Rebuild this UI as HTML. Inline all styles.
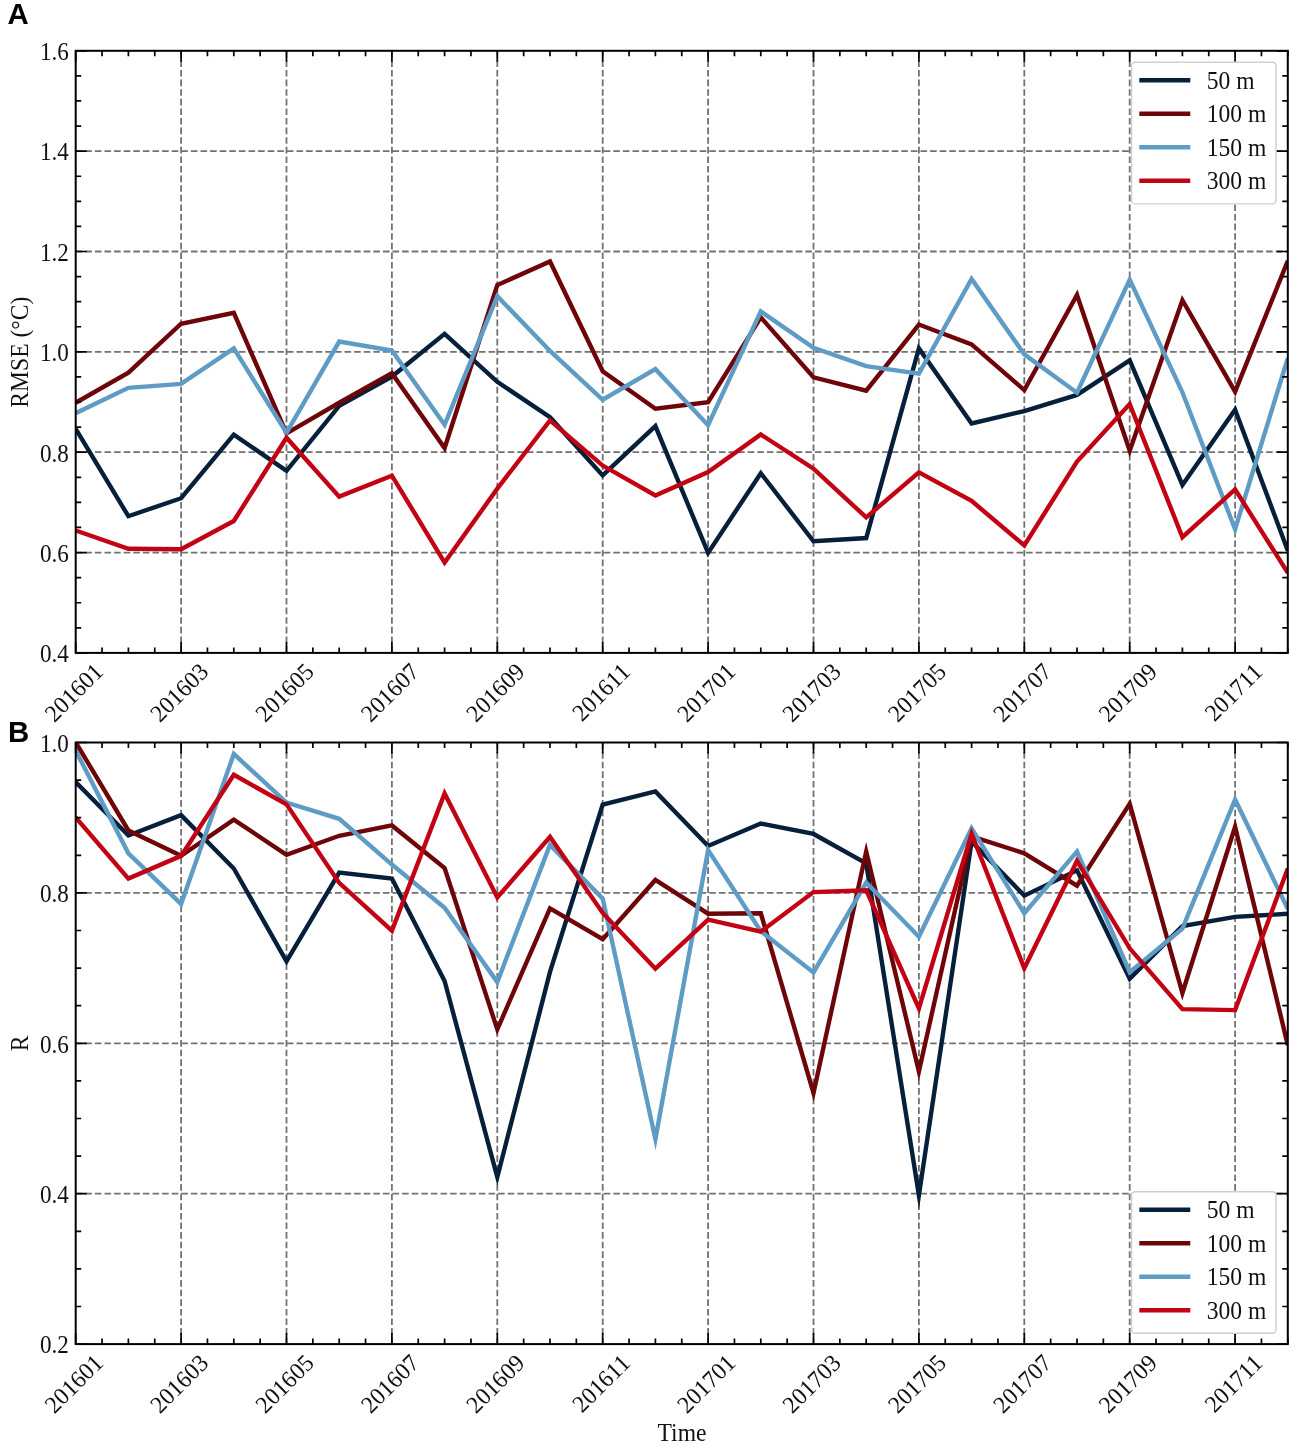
<!DOCTYPE html>
<html><head><meta charset="utf-8"><title>Figure</title>
<style>
html,body{margin:0;padding:0;background:#fff;}
body{width:1299px;height:1451px;overflow:hidden;}
svg{display:block}
text{font-family:"Liberation Serif",serif;font-size:24.2px;fill:#111;}
.pl{font-family:"Liberation Sans",sans-serif;font-weight:bold;font-size:30.3px;fill:#000;}
</style></head><body>
<svg style="will-change:transform" width="1299" height="1451" viewBox="0 0 1299 1451">
<rect width="1299" height="1451" fill="#fff"/>
<clipPath id="ac"><rect x="75.7" y="50.8" width="1212.10" height="602.10"/></clipPath>
<path d="M181.10 50.8V652.9M286.50 50.8V652.9M391.90 50.8V652.9M497.30 50.8V652.9M602.70 50.8V652.9M708.10 50.8V652.9M813.50 50.8V652.9M918.90 50.8V652.9M1024.30 50.8V652.9M1129.70 50.8V652.9M1235.10 50.8V652.9M75.7 151.15H1287.8M75.7 251.50H1287.8M75.7 351.85H1287.8M75.7 452.20H1287.8M75.7 552.55H1287.8" stroke="#727272" stroke-width="1.8" stroke-dasharray="6.6 3.0" fill="none"/>
<g clip-path="url(#ac)" fill="none" stroke-width="4.4" stroke-linejoin="miter" stroke-miterlimit="10">
<path d="M75.7 428.92L128.4 516.21L181.1 498.23L233.8 434.68L286.5 470.79L339.2 405.91L391.9 376.57L444.6 333.85L497.3 381.81L550.0 417.15L602.7 475.4L655.4 426.1L708.1 552.89L760.8 473.18L813.5 541.3L866.2 538.07L918.9 348.42L971.6 423.4L1024.3 411.12L1077.0 394.89L1129.7 360.35L1182.4 484.91L1235.1 409.68L1287.8 550.63" stroke="#061f3a"/>
<path d="M75.7 402.75L128.4 372.64L181.1 323.75L233.8 312.82L286.5 433.46L339.2 402.75L391.9 373.15L444.6 448.05L497.3 285.06L550.0 261.43L602.7 371.31L655.4 408.67L708.1 402.09L760.8 317.36L813.5 377.3L866.2 390.71L918.9 324.56L971.6 344.4L1024.3 390.11L1077.0 295.01L1129.7 450.69L1182.4 300.16L1235.1 391.67L1287.8 260.89" stroke="#6e0509"/>
<path d="M75.7 413.22L128.4 387.85L181.1 383.85L233.8 348.41L286.5 432.77L339.2 341.53L391.9 350.5L444.6 424.73L497.3 296.12L550.0 350.92L602.7 399.77L655.4 369.13L708.1 425.15L760.8 311.4L813.5 347.77L866.2 366.09L918.9 373.68L971.6 278.94L1024.3 354.32L1077.0 392.77L1129.7 279.65L1182.4 392.28L1235.1 529.29L1287.8 358.25" stroke="#5f9cc5"/>
<path d="M75.7 530.48L128.4 548.78L181.1 549.28L233.8 521.01L286.5 437.73L339.2 496.65L391.9 475.69L444.6 562.52L497.3 488.6L550.0 420.41L602.7 465.56L655.4 495.5L708.1 472.1L760.8 434.47L813.5 468.71L866.2 517.42L918.9 472.42L971.6 500.91L1024.3 545.42L1077.0 461.64L1129.7 404.03L1182.4 537.23L1235.1 489.42L1287.8 572.88" stroke="#c20314"/>
</g>
<path d="M75.70 50.8v11M75.70 652.9v-11M102.05 50.8v5.5M102.05 652.9v-5.5M128.40 50.8v5.5M128.40 652.9v-5.5M154.75 50.8v5.5M154.75 652.9v-5.5M181.10 50.8v11M181.10 652.9v-11M207.45 50.8v5.5M207.45 652.9v-5.5M233.80 50.8v5.5M233.80 652.9v-5.5M260.15 50.8v5.5M260.15 652.9v-5.5M286.50 50.8v11M286.50 652.9v-11M312.85 50.8v5.5M312.85 652.9v-5.5M339.20 50.8v5.5M339.20 652.9v-5.5M365.55 50.8v5.5M365.55 652.9v-5.5M391.90 50.8v11M391.90 652.9v-11M418.25 50.8v5.5M418.25 652.9v-5.5M444.60 50.8v5.5M444.60 652.9v-5.5M470.95 50.8v5.5M470.95 652.9v-5.5M497.30 50.8v11M497.30 652.9v-11M523.65 50.8v5.5M523.65 652.9v-5.5M550.00 50.8v5.5M550.00 652.9v-5.5M576.35 50.8v5.5M576.35 652.9v-5.5M602.70 50.8v11M602.70 652.9v-11M629.05 50.8v5.5M629.05 652.9v-5.5M655.40 50.8v5.5M655.40 652.9v-5.5M681.75 50.8v5.5M681.75 652.9v-5.5M708.10 50.8v11M708.10 652.9v-11M734.45 50.8v5.5M734.45 652.9v-5.5M760.80 50.8v5.5M760.80 652.9v-5.5M787.15 50.8v5.5M787.15 652.9v-5.5M813.50 50.8v11M813.50 652.9v-11M839.85 50.8v5.5M839.85 652.9v-5.5M866.20 50.8v5.5M866.20 652.9v-5.5M892.55 50.8v5.5M892.55 652.9v-5.5M918.90 50.8v11M918.90 652.9v-11M945.25 50.8v5.5M945.25 652.9v-5.5M971.60 50.8v5.5M971.60 652.9v-5.5M997.95 50.8v5.5M997.95 652.9v-5.5M1024.30 50.8v11M1024.30 652.9v-11M1050.65 50.8v5.5M1050.65 652.9v-5.5M1077.00 50.8v5.5M1077.00 652.9v-5.5M1103.35 50.8v5.5M1103.35 652.9v-5.5M1129.70 50.8v11M1129.70 652.9v-11M1156.05 50.8v5.5M1156.05 652.9v-5.5M1182.40 50.8v5.5M1182.40 652.9v-5.5M1208.75 50.8v5.5M1208.75 652.9v-5.5M1235.10 50.8v11M1235.10 652.9v-11M1261.45 50.8v5.5M1261.45 652.9v-5.5M1287.80 50.8v5.5M1287.80 652.9v-5.5M75.7 50.80h11M1287.8 50.80h-11M75.7 75.89h5.5M1287.8 75.89h-5.5M75.7 100.97h5.5M1287.8 100.97h-5.5M75.7 126.06h5.5M1287.8 126.06h-5.5M75.7 151.15h11M1287.8 151.15h-11M75.7 176.24h5.5M1287.8 176.24h-5.5M75.7 201.32h5.5M1287.8 201.32h-5.5M75.7 226.41h5.5M1287.8 226.41h-5.5M75.7 251.50h11M1287.8 251.50h-11M75.7 276.59h5.5M1287.8 276.59h-5.5M75.7 301.68h5.5M1287.8 301.68h-5.5M75.7 326.76h5.5M1287.8 326.76h-5.5M75.7 351.85h11M1287.8 351.85h-11M75.7 376.94h5.5M1287.8 376.94h-5.5M75.7 402.02h5.5M1287.8 402.02h-5.5M75.7 427.11h5.5M1287.8 427.11h-5.5M75.7 452.20h11M1287.8 452.20h-11M75.7 477.29h5.5M1287.8 477.29h-5.5M75.7 502.38h5.5M1287.8 502.38h-5.5M75.7 527.46h5.5M1287.8 527.46h-5.5M75.7 552.55h11M1287.8 552.55h-11M75.7 577.64h5.5M1287.8 577.64h-5.5M75.7 602.73h5.5M1287.8 602.73h-5.5M75.7 627.81h5.5M1287.8 627.81h-5.5M75.7 652.90h11M1287.8 652.90h-11" stroke="#000" stroke-width="1.7" fill="none"/>
<rect x="75.7" y="50.8" width="1212.10" height="602.10" fill="none" stroke="#000" stroke-width="2.0"/>
<text transform="translate(68.80 60.10) scale(0.955 1)" text-anchor="end">1.6</text>
<text transform="translate(68.80 160.45) scale(0.955 1)" text-anchor="end">1.4</text>
<text transform="translate(68.80 260.80) scale(0.955 1)" text-anchor="end">1.2</text>
<text transform="translate(68.80 361.15) scale(0.955 1)" text-anchor="end">1.0</text>
<text transform="translate(68.80 461.50) scale(0.955 1)" text-anchor="end">0.8</text>
<text transform="translate(68.80 561.85) scale(0.955 1)" text-anchor="end">0.6</text>
<text transform="translate(68.80 662.20) scale(0.955 1)" text-anchor="end">0.4</text>
<text transform="translate(104.50 673.20) rotate(-45) scale(0.975 1)" text-anchor="end">201601</text>
<text transform="translate(209.90 673.20) rotate(-45) scale(0.975 1)" text-anchor="end">201603</text>
<text transform="translate(315.30 673.20) rotate(-45) scale(0.975 1)" text-anchor="end">201605</text>
<text transform="translate(420.70 673.20) rotate(-45) scale(0.975 1)" text-anchor="end">201607</text>
<text transform="translate(526.10 673.20) rotate(-45) scale(0.975 1)" text-anchor="end">201609</text>
<text transform="translate(631.50 673.20) rotate(-45) scale(0.975 1)" text-anchor="end">201611</text>
<text transform="translate(736.90 673.20) rotate(-45) scale(0.975 1)" text-anchor="end">201701</text>
<text transform="translate(842.30 673.20) rotate(-45) scale(0.975 1)" text-anchor="end">201703</text>
<text transform="translate(947.70 673.20) rotate(-45) scale(0.975 1)" text-anchor="end">201705</text>
<text transform="translate(1053.10 673.20) rotate(-45) scale(0.975 1)" text-anchor="end">201707</text>
<text transform="translate(1158.50 673.20) rotate(-45) scale(0.975 1)" text-anchor="end">201709</text>
<text transform="translate(1263.90 673.20) rotate(-45) scale(0.975 1)" text-anchor="end">201711</text>
<rect x="1131.6" y="62.3" width="144.4" height="141.6" rx="3.5" fill="#fff" fill-opacity="1" stroke="#cfcfcf" stroke-width="1.4"/>
<path d="M1139.3 80.30H1190.3" stroke="#061f3a" stroke-width="4.4" stroke-linecap="butt"/>
<text transform="translate(1206.80 88.70) scale(0.975 1)" text-anchor="start">50 m</text>
<path d="M1139.3 113.80H1190.3" stroke="#6e0509" stroke-width="4.4" stroke-linecap="butt"/>
<text transform="translate(1206.80 122.20) scale(0.975 1)" text-anchor="start">100 m</text>
<path d="M1139.3 147.30H1190.3" stroke="#5f9cc5" stroke-width="4.4" stroke-linecap="butt"/>
<text transform="translate(1206.80 155.70) scale(0.975 1)" text-anchor="start">150 m</text>
<path d="M1139.3 180.80H1190.3" stroke="#c20314" stroke-width="4.4" stroke-linecap="butt"/>
<text transform="translate(1206.80 189.20) scale(0.975 1)" text-anchor="start">300 m</text>
<clipPath id="bc"><rect x="75.7" y="742.5" width="1212.10" height="601.60"/></clipPath>
<path d="M181.10 742.5V1344.1M286.50 742.5V1344.1M391.90 742.5V1344.1M497.30 742.5V1344.1M602.70 742.5V1344.1M708.10 742.5V1344.1M813.50 742.5V1344.1M918.90 742.5V1344.1M1024.30 742.5V1344.1M1129.70 742.5V1344.1M1235.10 742.5V1344.1M75.7 892.90H1287.8M75.7 1043.30H1287.8M75.7 1193.70H1287.8" stroke="#727272" stroke-width="1.8" stroke-dasharray="6.6 3.0" fill="none"/>
<g clip-path="url(#bc)" fill="none" stroke-width="4.4" stroke-linejoin="miter" stroke-miterlimit="10">
<path d="M75.7 782.11L128.4 835.49L181.1 815.11L233.8 868.5L286.5 961.26L339.2 872.66L391.9 878.59L444.6 981.03L497.3 1177.19L550.0 971.87L602.7 804.51L655.4 791.48L708.1 845.93L760.8 823.54L813.5 833.96L866.2 863.34L918.9 1195.28L971.6 841.48L1024.3 895.62L1077.0 870.37L1129.7 978.68L1182.4 926.13L1235.1 916.91L1287.8 913.77" stroke="#061f3a"/>
<path d="M75.7 742.33L128.4 830.48L181.1 855.7L233.8 819.58L286.5 854.71L339.2 835.77L391.9 825.44L444.6 868.0L497.3 1029.4L550.0 908.47L602.7 939.25L655.4 879.94L708.1 913.71L760.8 913.28L813.5 1092.99L866.2 851.49L918.9 1071.45L971.6 836.39L1024.3 853.32L1077.0 885.71L1129.7 803.87L1182.4 992.98L1235.1 826.74L1287.8 1045.16" stroke="#6e0509"/>
<path d="M75.7 750.7L128.4 853.3L181.1 903.92L233.8 753.97L286.5 802.5L339.2 818.79L391.9 864.56L444.6 907.76L497.3 982.02L550.0 844.85L602.7 898.62L655.4 1138.98L708.1 850.04L760.8 931.29L813.5 972.43L866.2 882.54L918.9 936.75L971.6 828.21L1024.3 913.24L1077.0 851.48L1129.7 972.23L1182.4 928.66L1235.1 799.44L1287.8 909.06" stroke="#5f9cc5"/>
<path d="M75.7 817.45L128.4 878.62L181.1 855.87L233.8 774.78L286.5 804.39L339.2 882.87L391.9 930.72L444.6 793.44L497.3 897.41L550.0 836.71L602.7 912.98L655.4 968.66L708.1 919.72L760.8 931.68L813.5 892.1L866.2 890.21L918.9 1008.36L971.6 833.62L1024.3 968.34L1077.0 860.95L1129.7 948.32L1182.4 1009.18L1235.1 1010.08L1287.8 868.49" stroke="#c20314"/>
</g>
<path d="M75.70 742.5v11M75.70 1344.1v-11M102.05 742.5v5.5M102.05 1344.1v-5.5M128.40 742.5v5.5M128.40 1344.1v-5.5M154.75 742.5v5.5M154.75 1344.1v-5.5M181.10 742.5v11M181.10 1344.1v-11M207.45 742.5v5.5M207.45 1344.1v-5.5M233.80 742.5v5.5M233.80 1344.1v-5.5M260.15 742.5v5.5M260.15 1344.1v-5.5M286.50 742.5v11M286.50 1344.1v-11M312.85 742.5v5.5M312.85 1344.1v-5.5M339.20 742.5v5.5M339.20 1344.1v-5.5M365.55 742.5v5.5M365.55 1344.1v-5.5M391.90 742.5v11M391.90 1344.1v-11M418.25 742.5v5.5M418.25 1344.1v-5.5M444.60 742.5v5.5M444.60 1344.1v-5.5M470.95 742.5v5.5M470.95 1344.1v-5.5M497.30 742.5v11M497.30 1344.1v-11M523.65 742.5v5.5M523.65 1344.1v-5.5M550.00 742.5v5.5M550.00 1344.1v-5.5M576.35 742.5v5.5M576.35 1344.1v-5.5M602.70 742.5v11M602.70 1344.1v-11M629.05 742.5v5.5M629.05 1344.1v-5.5M655.40 742.5v5.5M655.40 1344.1v-5.5M681.75 742.5v5.5M681.75 1344.1v-5.5M708.10 742.5v11M708.10 1344.1v-11M734.45 742.5v5.5M734.45 1344.1v-5.5M760.80 742.5v5.5M760.80 1344.1v-5.5M787.15 742.5v5.5M787.15 1344.1v-5.5M813.50 742.5v11M813.50 1344.1v-11M839.85 742.5v5.5M839.85 1344.1v-5.5M866.20 742.5v5.5M866.20 1344.1v-5.5M892.55 742.5v5.5M892.55 1344.1v-5.5M918.90 742.5v11M918.90 1344.1v-11M945.25 742.5v5.5M945.25 1344.1v-5.5M971.60 742.5v5.5M971.60 1344.1v-5.5M997.95 742.5v5.5M997.95 1344.1v-5.5M1024.30 742.5v11M1024.30 1344.1v-11M1050.65 742.5v5.5M1050.65 1344.1v-5.5M1077.00 742.5v5.5M1077.00 1344.1v-5.5M1103.35 742.5v5.5M1103.35 1344.1v-5.5M1129.70 742.5v11M1129.70 1344.1v-11M1156.05 742.5v5.5M1156.05 1344.1v-5.5M1182.40 742.5v5.5M1182.40 1344.1v-5.5M1208.75 742.5v5.5M1208.75 1344.1v-5.5M1235.10 742.5v11M1235.10 1344.1v-11M1261.45 742.5v5.5M1261.45 1344.1v-5.5M1287.80 742.5v5.5M1287.80 1344.1v-5.5M75.7 742.50h11M1287.8 742.50h-11M75.7 780.10h5.5M1287.8 780.10h-5.5M75.7 817.70h5.5M1287.8 817.70h-5.5M75.7 855.30h5.5M1287.8 855.30h-5.5M75.7 892.90h11M1287.8 892.90h-11M75.7 930.50h5.5M1287.8 930.50h-5.5M75.7 968.10h5.5M1287.8 968.10h-5.5M75.7 1005.70h5.5M1287.8 1005.70h-5.5M75.7 1043.30h11M1287.8 1043.30h-11M75.7 1080.90h5.5M1287.8 1080.90h-5.5M75.7 1118.50h5.5M1287.8 1118.50h-5.5M75.7 1156.10h5.5M1287.8 1156.10h-5.5M75.7 1193.70h11M1287.8 1193.70h-11M75.7 1231.30h5.5M1287.8 1231.30h-5.5M75.7 1268.90h5.5M1287.8 1268.90h-5.5M75.7 1306.50h5.5M1287.8 1306.50h-5.5M75.7 1344.10h11M1287.8 1344.10h-11" stroke="#000" stroke-width="1.7" fill="none"/>
<rect x="75.7" y="742.5" width="1212.10" height="601.60" fill="none" stroke="#000" stroke-width="2.0"/>
<text transform="translate(68.80 751.80) scale(0.955 1)" text-anchor="end">1.0</text>
<text transform="translate(68.80 902.20) scale(0.955 1)" text-anchor="end">0.8</text>
<text transform="translate(68.80 1052.60) scale(0.955 1)" text-anchor="end">0.6</text>
<text transform="translate(68.80 1203.00) scale(0.955 1)" text-anchor="end">0.4</text>
<text transform="translate(68.80 1353.40) scale(0.955 1)" text-anchor="end">0.2</text>
<text transform="translate(104.50 1364.40) rotate(-45) scale(0.975 1)" text-anchor="end">201601</text>
<text transform="translate(209.90 1364.40) rotate(-45) scale(0.975 1)" text-anchor="end">201603</text>
<text transform="translate(315.30 1364.40) rotate(-45) scale(0.975 1)" text-anchor="end">201605</text>
<text transform="translate(420.70 1364.40) rotate(-45) scale(0.975 1)" text-anchor="end">201607</text>
<text transform="translate(526.10 1364.40) rotate(-45) scale(0.975 1)" text-anchor="end">201609</text>
<text transform="translate(631.50 1364.40) rotate(-45) scale(0.975 1)" text-anchor="end">201611</text>
<text transform="translate(736.90 1364.40) rotate(-45) scale(0.975 1)" text-anchor="end">201701</text>
<text transform="translate(842.30 1364.40) rotate(-45) scale(0.975 1)" text-anchor="end">201703</text>
<text transform="translate(947.70 1364.40) rotate(-45) scale(0.975 1)" text-anchor="end">201705</text>
<text transform="translate(1053.10 1364.40) rotate(-45) scale(0.975 1)" text-anchor="end">201707</text>
<text transform="translate(1158.50 1364.40) rotate(-45) scale(0.975 1)" text-anchor="end">201709</text>
<text transform="translate(1263.90 1364.40) rotate(-45) scale(0.975 1)" text-anchor="end">201711</text>
<rect x="1131.6" y="1191.7" width="144.4" height="141.6" rx="3.5" fill="#fff" fill-opacity="1" stroke="#cfcfcf" stroke-width="1.4"/>
<path d="M1139.3 1209.70H1190.3" stroke="#061f3a" stroke-width="4.4" stroke-linecap="butt"/>
<text transform="translate(1206.80 1218.10) scale(0.975 1)" text-anchor="start">50 m</text>
<path d="M1139.3 1243.20H1190.3" stroke="#6e0509" stroke-width="4.4" stroke-linecap="butt"/>
<text transform="translate(1206.80 1251.60) scale(0.975 1)" text-anchor="start">100 m</text>
<path d="M1139.3 1276.70H1190.3" stroke="#5f9cc5" stroke-width="4.4" stroke-linecap="butt"/>
<text transform="translate(1206.80 1285.10) scale(0.975 1)" text-anchor="start">150 m</text>
<path d="M1139.3 1310.20H1190.3" stroke="#c20314" stroke-width="4.4" stroke-linecap="butt"/>
<text transform="translate(1206.80 1318.60) scale(0.975 1)" text-anchor="start">300 m</text>
<text class="pl" transform="translate(7.40 24.40) scale(0.97 1)" text-anchor="start">A</text>
<text class="pl" transform="translate(8.00 742.40) scale(0.97 1)" text-anchor="start">B</text>
<text transform="translate(27.60 352.20) rotate(-90) scale(0.975 1)" text-anchor="middle">RMSE (°C)</text>
<text transform="translate(27.60 1043.50) rotate(-90) scale(0.975 1)" text-anchor="middle">R</text>
<text transform="translate(682.00 1441.00) scale(0.975 1)" text-anchor="middle">Time</text>
</svg>
</body></html>
